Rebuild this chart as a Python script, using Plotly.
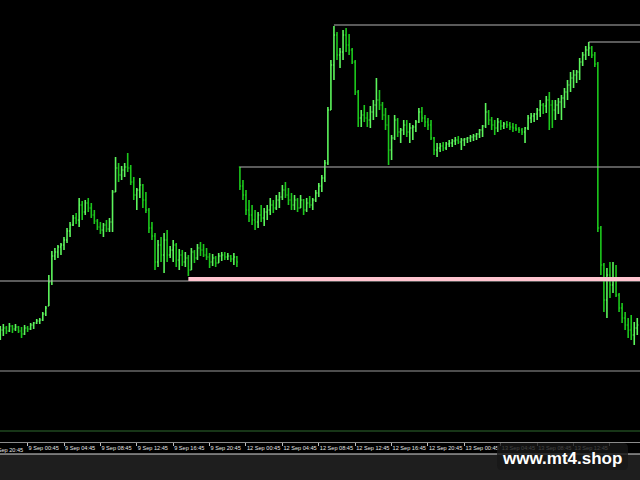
import plotly.graph_objects as go

# ---- bar data (price in points, 1 point = 0.0001) ----
opens = [12693,12701,12703,12700,12705,12702,12704,12700,12697,12703,12702,12706,12708,12710,12711,12717,12725,12749,12775,12779,
         12784,12786,12791,12800,12806,12813,12811,12826,12819,12828,12823,12816,12810,12804,12801,12806,12802,12809,12839,12863,
         12856,12861,12864,12863,12849,12836,12841,12846,12831,12821,12803,12795,12769,12786,12776,12791,12776,12781,12786,12771,
         12776,12769,12773,12761,12779,12773,12783,12781,12776,12774,12769,12773,12768,12775,12776,12774,12775,12772,12774,12864,
         12845,12836,12821,12816,12811,12809,12816,12813,12819,12821,12826,12823,12831,12834,12841,12836,12831,12826,12831,12823,
         12831,12821,12828,12826,12831,12838,12845,12853,12868,12921,12966,12996,12976,12979,12996,12986,12981,12969,12939,12913,
         12916,12913,12911,12919,12926,12931,12926,12916,12906,12881,12893,12911,12899,12901,12906,12899,12903,12904,12909,12919,
         12913,12909,12906,12893,12881,12883,12885,12883,12887,12888,12890,12891,12889,12891,12892,12893,12894,12895,12897,12901,
         12905,12919,12911,12906,12903,12909,12905,12907,12906,12904,12903,12902,12901,12899,12903,12913,12915,12917,12921,12926,
         12925,12931,12926,12921,12926,12929,12933,12939,12946,12953,12956,12959,12969,12976,12981,12983,12976,12967,12803,12766,
         12731,12756,12746,12751,12736,12723,12713,12706,12701,12696,12703]
highs = [12705,12707,12705,12708,12706,12707,12705,12704,12706,12705,12708,12709,12712,12713,12719,12725,12756,12780,12783,12786,
         12788,12794,12803,12809,12816,12818,12833,12830,12831,12833,12828,12821,12812,12809,12808,12811,12813,12841,12874,12868,
         12865,12868,12878,12866,12854,12843,12853,12847,12839,12823,12809,12798,12791,12794,12798,12801,12785,12791,12788,12782,
         12781,12779,12776,12783,12781,12787,12789,12787,12783,12778,12777,12775,12778,12779,12779,12778,12776,12778,12775,12864,
         12851,12841,12831,12826,12821,12819,12826,12823,12826,12833,12831,12836,12839,12846,12849,12843,12838,12836,12833,12836,
         12832,12833,12835,12833,12841,12848,12856,12871,12924,12971,13005,12999,12983,13001,13003,12997,12983,12971,12941,12921,
         12926,12919,12925,12931,12953,12941,12929,12923,12916,12896,12916,12913,12903,12911,12911,12908,12906,12911,12923,12924,
         12916,12913,12911,12894,12888,12888,12889,12889,12891,12892,12894,12895,12893,12893,12894,12896,12897,12898,12902,12906,
         12928,12921,12914,12911,12913,12911,12909,12910,12909,12908,12907,12904,12903,12904,12916,12918,12918,12923,12931,12928,
         12935,12939,12931,12931,12933,12936,12943,12951,12959,12961,12961,12973,12979,12985,12989,12985,12979,12969,12805,12768,
         12763,12769,12769,12766,12738,12728,12719,12713,12716,12709,12713]
lows = [12691,12695,12697,12699,12698,12700,12698,12693,12696,12699,12701,12702,12707,12707,12710,12715,12725,12746,12771,12773,
        12776,12781,12788,12794,12805,12807,12804,12811,12816,12819,12813,12807,12801,12797,12794,12799,12799,12799,12839,12849,
        12851,12854,12859,12846,12831,12821,12833,12823,12818,12798,12791,12761,12764,12769,12758,12769,12773,12769,12764,12761,
        12765,12764,12755,12761,12768,12771,12775,12774,12771,12763,12765,12764,12768,12770,12771,12771,12769,12766,12764,12841,
        12831,12816,12809,12806,12801,12803,12809,12805,12811,12816,12818,12821,12823,12831,12833,12826,12821,12821,12819,12823,
        12816,12819,12823,12821,12829,12834,12839,12849,12866,12921,12951,12971,12963,12971,12979,12976,12967,12936,12904,12904,
        12909,12904,12903,12911,12914,12921,12911,12901,12866,12871,12891,12894,12888,12896,12894,12888,12891,12899,12908,12909,
        12904,12901,12891,12876,12874,12879,12880,12881,12884,12884,12886,12887,12881,12885,12888,12889,12890,12891,12893,12894,
        12903,12906,12901,12896,12899,12901,12902,12903,12901,12899,12900,12898,12896,12888,12901,12908,12909,12911,12914,12917,
        12918,12901,12903,12911,12917,12911,12923,12931,12939,12943,12948,12951,12965,12971,12975,12973,12964,12799,12756,12719,
        12713,12733,12738,12734,12719,12708,12701,12693,12691,12686,12696]
closes = [12701,12703,12700,12705,12702,12704,12700,12697,12703,12702,12706,12708,12710,12711,12717,12723,12749,12775,12779,12784,
          12786,12791,12800,12806,12813,12811,12826,12819,12828,12823,12816,12810,12804,12801,12806,12802,12809,12839,12863,12856,
          12861,12864,12863,12849,12836,12841,12846,12831,12821,12803,12795,12769,12786,12776,12791,12776,12781,12786,12771,12776,
          12769,12773,12761,12779,12773,12783,12781,12776,12774,12769,12773,12768,12775,12776,12774,12775,12772,12774,12769,12845,
          12836,12821,12816,12811,12809,12816,12813,12819,12821,12826,12823,12831,12834,12841,12836,12831,12826,12831,12823,12831,
          12821,12828,12826,12831,12838,12845,12853,12868,12921,12966,12996,12976,12979,12996,12986,12981,12969,12939,12913,12916,
          12913,12911,12919,12926,12931,12926,12916,12906,12881,12893,12911,12899,12901,12906,12899,12903,12904,12909,12919,12913,
          12909,12906,12893,12881,12883,12885,12883,12887,12888,12890,12891,12889,12891,12892,12893,12894,12895,12897,12901,12905,
          12919,12911,12906,12903,12909,12905,12907,12906,12904,12903,12902,12901,12899,12903,12913,12915,12917,12921,12926,12925,
          12931,12926,12921,12926,12929,12933,12939,12946,12953,12956,12959,12969,12976,12981,12983,12976,12967,12803,12766,12731,
          12756,12746,12751,12736,12723,12713,12706,12701,12696,12703,12706]
POINT = 10000.0

# ---- time scale labels (bar index -> label) ----
first_label_bar = -3
first_label = "8 Sep 20:45"
tick_bars = [9, 21, 33, 45, 57, 69, 81, 93, 105, 117, 129, 141, 153, 165, 177, 189, 201]
tick_labels = ["9 Sep 00:45", "9 Sep 04:45", "9 Sep 08:45", "9 Sep 12:45", "9 Sep 16:45", "9 Sep 20:45",
               "12 Sep 00:45", "12 Sep 04:45", "12 Sep 08:45", "12 Sep 12:45", "12 Sep 16:45", "12 Sep 20:45",
               "13 Sep 00:45", "13 Sep 04:45", "13 Sep 08:45", "13 Sep 12:45", "13 Sep 16:45"]

# ---- horizontal levels (points) and the bar they start from (None = off-screen left) ----
level_prices = [13006, 12989, 12864, 12750, 12660, 12600]
level_starts = [110, 194, 79, None, None, None]
level_colors = ["#b4b4b4", "#b4b4b4", "#b4b4b4", "#b4b4b4", "#9a9a9a", "#2f6a2f"]
support_price = 12752
support_start = 62

X_RANGE = [-0.1, 210.9]
Y_RANGE = [12589 / POINT, 13031 / POINT]

fig = go.Figure()
fig.add_trace(go.Ohlc(
    x=list(range(len(opens))),
    open=[v / POINT for v in opens],
    high=[v / POINT for v in highs],
    low=[v / POINT for v in lows],
    close=[v / POINT for v in closes],
    increasing=dict(line=dict(color="#5cf55c", width=1.6)),
    decreasing=dict(line=dict(color="#1cc81c", width=1.6)),
    tickwidth=0.35,
    hoverinfo="skip",
    showlegend=False,
))

shapes = []
for p, s, col in zip(level_prices, level_starts, level_colors):
    shapes.append(dict(type="line", xref="x", yref="y",
                       x0=X_RANGE[0] if s is None else s, x1=X_RANGE[1],
                       y0=p / POINT, y1=p / POINT,
                       line=dict(color=col, width=1), layer="above"))
shapes.append(dict(type="line", xref="x", yref="y", x0=support_start, x1=X_RANGE[1],
                   y0=support_price / POINT, y1=support_price / POINT,
                   line=dict(color="#ffc4cf", width=4), layer="above"))

# bottom status strip
shapes.append(dict(type="rect", xref="paper", yref="paper", x0=0, x1=1, y0=0, y1=26 / 480,
                   fillcolor="#1e1e1e", line=dict(width=0), layer="below"))
shapes.append(dict(type="line", xref="paper", yref="paper", x0=0, x1=1, y0=26 / 480, y1=26 / 480,
                   line=dict(color="#d8d8d8", width=1), layer="above"))

# watermark box (rounded)
bx0, bx1 = 497 / 640, 628 / 640
by0, by1 = (480 - 470) / 480, (480 - 443) / 480
rx, ry = 5 / 640, 5 / 480
path = (f"M {bx0+rx},{by0} L {bx1-rx},{by0} Q {bx1},{by0} {bx1},{by0+ry} "
        f"L {bx1},{by1-ry} Q {bx1},{by1} {bx1-rx},{by1} L {bx0+rx},{by1} "
        f"Q {bx0},{by1} {bx0},{by1-ry} L {bx0},{by0+ry} Q {bx0},{by0} {bx0+rx},{by0} Z")
shapes.append(dict(type="path", xref="paper", yref="paper", path=path,
                   fillcolor="rgba(22,22,22,0.8)", line=dict(width=0), layer="above"))

label_font = dict(family="Liberation Sans, Arial", size=5.6, color="#e4e4e4")

fig.update_layout(
    width=640, height=480,
    margin=dict(l=0, r=0, t=0, b=0),
    paper_bgcolor="#000000", plot_bgcolor="#000000",
    showlegend=False,
    shapes=shapes,
    xaxis=dict(range=X_RANGE, showgrid=False, zeroline=False,
               showline=True, linecolor="#8c8c8c", linewidth=1,
               ticks="outside", ticklen=3, tickcolor="#bdbdbd", tickwidth=1,
               tickvals=tick_bars, ticktext=tick_labels, tickangle=0, automargin=False,
               ticklabelposition="outside right", tickfont=label_font,
               rangeslider=dict(visible=False), fixedrange=True),
    yaxis=dict(range=Y_RANGE, domain=[38 / 480, 1], visible=False, fixedrange=True),
    annotations=[
        dict(xref="paper", yref="paper",
             x=(first_label_bar - X_RANGE[0]) / (X_RANGE[1] - X_RANGE[0]), y=(480 - 442) / 480,
             xanchor="left", yanchor="top", yshift=-3, text=first_label, showarrow=False,
             font=label_font),
        dict(xref="paper", yref="paper", x=562 / 640, y=(480 - 458) / 480,
             xanchor="center", yanchor="middle", text="<b>www.mt4.shop</b>", showarrow=False,
             font=dict(family="Liberation Sans, Arial", size=17, color="#ffffff")),
    ],
)

fig.write_html("out.html", config={"displayModeBar": False},
               post_script="document.body.style.margin='0';")
